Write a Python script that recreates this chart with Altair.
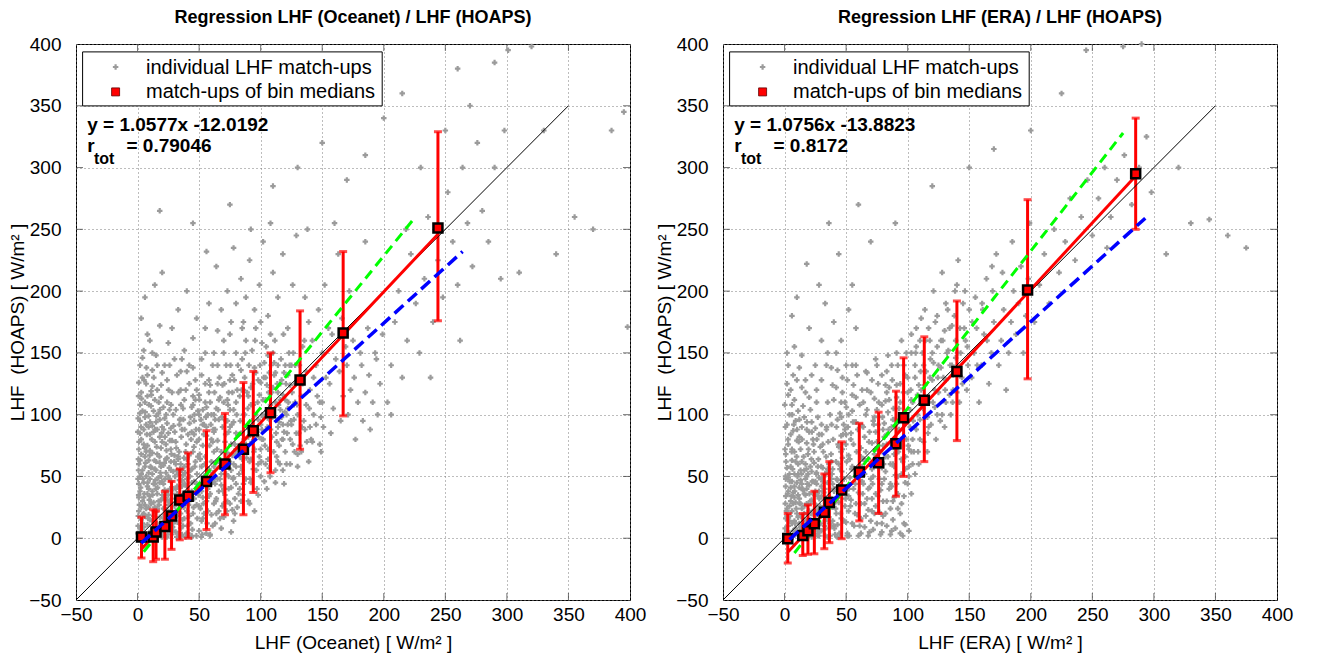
import altair as alt
import pandas as pd

# ---------------- data ----------------
ticks = [-50, 0, 50, 100, 150, 200, 250, 300, 350, 400]

# individual match-ups, Oceanet (x) vs HOAPS (y)
oce_pts = [
(1,2),(2,8),(3,15),(1,22),(4,30),(2,38),(5,45),(3,52),(1,60),(6,66),(7,3),(8,11),(9,19),(6,27),(10,34),(8,42),(7,50),(11,57),(9,63),(12,69),
(13,1),(14,7),(12,14),(15,21),(13,29),(16,36),(14,44),(17,49),(15,55),(18,61),(16,68),(19,4),(20,10),(18,17),(21,24),(19,31),(22,39),(20,46),(23,53),(21,59),
(24,65),(22,2),(25,9),(26,16),(24,23),(27,28),(25,35),(28,41),(26,48),(29,54),(27,62),(30,67),(31,5),(29,12),(32,18),(30,26),(33,33),(31,40),(34,47),(32,55),
(35,60),(33,66),(36,3),(37,10),(35,20),(38,27),(36,34),(39,43),(37,51),(38,58),(40,64),(39,1),(2,4),(4,12),(6,18),(3,25),(5,33),(8,36),(10,48),(4,55),
(2,63),(7,70),(11,6),(9,25),(13,18),(15,40),(12,52),(17,30),(19,58),(16,12),(21,44),(23,20),(25,50),(22,33),(26,6),(28,22),(24,38),(27,46),(30,14),(32,36),
(34,24),(33,52),(36,42),(38,16),(37,30),(40,48),(1,44),(3,5),(5,9),(7,24),(9,40),(11,28),(14,56),(18,45),(20,2),(23,64),(26,30),(29,40),(31,60),(35,8),
(38,44),(40,22),(2,50),(6,58),(10,15),(14,25),(17,8),(20,35),(24,14),(27,55),(31,22),(34,12),(1,33),(3,68),(8,2),(12,38),(15,62),(19,50),(22,8),(28,32),
(33,4),(39,35),(5,20),(9,53),(13,44),(16,24),(21,16),(25,27),(29,6),(36,55),
(1,72),(3,80),(5,88),(2,95),(4,103),(6,110),(3,118),(1,126),(8,75),(10,84),(7,92),(9,99),(11,107),(8,115),(12,123),(14,78),(13,86),(15,94),(17,101),(14,112),
(16,120),(19,73),(18,82),(20,90),(22,97),(21,106),(19,114),(23,76),(25,85),(24,93),(26,104),(28,79),(27,89),(29,100),(2,85),(6,98),(10,71),(12,91),(4,130),(16,88),
(20,78),(24,110),(7,125),(11,119),(27,72),(2,108),(5,76),(9,90),(13,103),(18,96),
(41,4),(43,12),(45,20),(42,30),(44,38),(46,46),(43,55),(47,62),(45,70),(48,78),(44,86),(46,95),(49,103),(47,112),(50,6),(52,14),(51,24),(53,33),(50,41),(54,50),
(52,58),(55,66),(53,75),(56,83),(54,92),(57,100),(55,110),(58,118),(59,3),(61,10),(60,19),(62,28),(59,36),(63,44),(61,53),(64,61),(62,70),(65,79),(63,88),(66,96),
(64,105),(67,114),(68,8),(70,17),(69,26),(71,35),(68,43),(72,52),(70,60),(73,69),(71,78),(74,86),(72,95),(75,104),(73,112),(76,5),(78,14),(77,23),(79,32),(76,41),
(78,49),(80,58),(77,67),(79,76),(80,85),(78,94),(42,18),(48,27),(51,64),(57,40),(60,80),(66,22),(69,90),(74,40),(41,60),(45,108),(53,16),(58,56),(62,100),(67,48),
(71,70),(75,28),(80,110),(44,2),(50,88),(56,30),(63,12),(69,58),(73,95),(77,118),
(81,25),(83,40),(85,55),(82,70),(84,85),(86,100),(83,115),(87,130),(85,145),(88,160),(90,30),(92,45),(91,62),(93,78),(90,92),(94,108),(92,122),(95,138),(93,152),(96,170),
(98,35),(100,50),(99,66),(101,80),(98,96),(102,112),(100,126),(103,142),(101,158),(105,40),(107,57),(106,72),(108,88),(105,103),(109,118),(107,134),(110,150),(112,45),(114,62),(113,78),
(115,94),(112,110),(116,125),(114,140),(118,55),(120,70),(119,86),(121,100),(118,116),(122,132),(124,60),(126,76),(125,92),(127,108),(124,124),(128,140),(130,68),(129,85),(130,100),(84,30),
(89,118),(97,86),(104,60),(111,132),(117,98),(123,150),(86,175),(95,22),(108,165),(119,44),
(2,140),(5,152),(8,165),(3,178),(12,136),(15,148),(10,160),(18,172),(22,140),(25,158),(30,145),(28,170),(35,135),(38,152),(33,185),(42,140),(45,162),(48,178),(52,145),(55,170),
(58,190),(6,195),(14,205),(40,200),(20,215),
(62,150),(65,168),(68,185),(70,160),(73,200),(76,175),(80,190),(84,210),(88,195),(91,225),(95,185),(99,205),(102,240),(106,180),(110,215),(114,195),(118,230),(122,170),(126,205),(129,245),
(64,220),(78,235),(92,250),(108,255),(56,232),
(132,75),(135,95),(133,115),(137,135),(134,155),(139,175),(136,195),(141,80),(143,100),(140,120),(145,140),(142,160),(147,185),(149,70),(151,90),(148,110),(153,130),(150,150),(155,170),(152,205),
(157,85),(159,105),(156,125),(161,145),(158,165),(163,230),(165,95),(167,115),(164,135),(169,155),(166,178),(171,100),(173,120),(170,140),(175,160),(172,200),(177,80),(179,110),(176,130),(181,150),
(183,95),(185,118),(182,140),(187,170),(189,88),(191,110),(188,132),(193,150),(195,100),(197,125),(194,145),(199,165),(138,250),(160,255),(185,240),
(203,110),(206,140),(209,175),(212,200),(215,130),(219,160),(222,230),(226,190),(229,150),(233,210),(236,260),(240,175),(244,225),(248,195),(252,280),(256,240),(260,205),(264,300),(268,255),(272,220),
(276,320),(280,265),(285,240),(290,300),(295,210),(206,100),(218,250),(238,130),(262,160),(298,330),
(18,265),(45,255),(75,270),(110,285),(130,300),(150,320),(170,290),(185,310),(200,340),(215,360),(230,300),(250,330),(270,350),(290,385),(301,395),(320,398),(340,230),(355,260),(370,250),(398,171),
(385,330),(395,345),(310,215),(330,330),(260,380),
(0.5,10),(1.5,27),(2.5,41),(0.8,55),(1.2,78),(2.8,90),(3.5,7),(4.5,19),(5.5,36),(4.2,48),(6.5,61),(5.8,73),(7.5,84),(6.2,102),(8.5,16),(9.5,31),(8.2,45),(10.5,58),(9.8,67),(11.5,80),
(10.2,94),(12.5,4),(13.5,22),(12.2,35),(14.5,47),(13.8,63),(15.5,74),(14.2,88),(16.5,10),(17.5,27),(16.2,41),(18.5,53),(17.8,66),(19.5,85),(18.2,104),(20.5,6),(21.5,19),(20.2,32),(22.5,48),(21.8,61),
(23.5,71),(22.2,82),(24.5,3),(25.5,14),(24.2,31),(26.5,40),(25.8,57),(27.5,68),(26.2,79),(28.5,9),(29.5,20),(28.2,36),(30.5,50),(29.8,62),(31.5,73),(30.2,86),(32.5,13),(33.5,27),(32.2,42),(34.5,56),
(33.8,70),(35.5,82),(34.2,96),(36.5,15),(37.5,25),(36.2,47),(38.5,53),(37.8,65),(39.5,76),(38.2,88),(40.5,10),(41.5,27),(40.2,42),(42.5,50),(41.8,67),(43.5,80),(42.2,93),(44.5,7),(45.5,25),(44.2,45),
(46.5,58),(45.8,74),(47.5,88),(46.2,100),(48.5,16),(49.5,35),(48.2,52),(50.5,68),(49.8,80),(51.5,96),(50.2,112),(52.5,3),(53.5,28),(52.2,44),(54.5,60),(53.8,84),(55.5,98),(56.5,12),(57.5,48),(58.5,75),
(59.5,92),(57.2,22),(1.8,101),(3.2,113),(5.2,128),(7.2,138),(9.2,108),(11.2,116),(13.2,130),(15.2,99),(17.2,110),(19.2,124),(21.2,88),(23.2,100),(25.2,120),(27.2,108),(29.2,91),(31.2,104),(33.2,118),(35.2,108),
(37.2,96),(39.2,120),(0.3,4),(0.6,18),(0.9,35),(0.4,48),(0.7,64),(0.2,86),(0.5,97),(0.8,115),(2.2,2),(4.8,2),(7.8,1),(10.8,3),(16.8,2),(19.8,1),(23.8,1),(27.8,3),(31.8,1),(35.8,2),
(39.8,4),(43.8,1),(47.8,2),(51.8,1),(55.8,4),(58.8,2),
(60.5,45),(61.5,88),(62.5,118),(63.5,30),(64.5,72),(65.5,104),(66.5,130),(67.5,58),(68.5,98),(69.5,38),(70.5,125),(71.5,84),(72.5,22),(73.5,108),(74.5,62),(75.5,140),(76.5,92),(77.5,48),(78.5,128),(79.5,68),
(80.5,100),(81.5,140),(82.5,52),(83.5,95),(84.5,120),(85.5,35),(86.5,80),(87.5,150),(88.5,65),(89.5,105),(90.5,140),(91.5,48),(92.5,90),(93.5,125),(94.5,70),(95.5,160),(96.5,55),(97.5,110),(98.5,82),(99.5,140),
(100.5,62),(101.5,100),(102.5,130),(103.5,75),(104.5,155),(105.5,90),(106.5,118),(107.5,50),(108.5,140),(109.5,98),(110.5,70),(111.5,160),(112.5,85),(113.5,125),(114.5,108),(115.5,60),(116.5,145),(117.5,80),(118.5,165),(119.5,102),
(120.5,125),(121.5,85),(122.5,110),(123.5,140),(124.5,95),(125.5,118),(126.5,150),(127.5,70),(128.5,125),(129.5,108),(131.5,140),(133.5,90),(135.5,160),(137.5,78),(139.5,105),(65,140),(70,150),(75,165),(85,170),(100,175),
(31,78),(34,92),(37,105),(42,125),(45,138),(48,120),(52,132),(55,150),(58,128),(61,140),(33,64),(36,88),(39,70),(43,98),(46,84),(49,66),(53,104),(56,90),(59,110),(62,58),
(65,48),(68,70),(71,96),(74,118),(77,132),(80,44),(83,66),(86,120),(89,90),(92,108),(95,72),(98,128),(101,88),(104,112),(107,96),(110,122),(113,66),(116,104),(119,134),(122,92),
(125,140),(128,110),(131,85),(134,125),(137,108),(140,90),(143,130),(146,115),(149,98),(64,32),(67,16),(70,40),(73,30),(76,55),(79,20),(82,36),(85,64),(88,48),(91,28),(94,56),
(97,40),(100,72),(103,46),(106,64),(109,82),(112,55),(115,75),(118,92),(121,60),(124,80),(127,96),(130,58),(133,70),(136,88),(139,62),(142,78),(145,92),(148,76),(150,110),(61,78),
(63,96),(66,112),(69,124),(72,140),(75,90),(78,104),(81,120),(84,136),(87,100),(90,115),(93,95),(96,134),(99,116),(102,98),(105,124),(108,108),(111,142),(114,118),(117,128),(120,112),
(35,96),(38,112),(41,84),(44,106),(47,128),(50,116),(53,92),(56,106),(59,124),(62,86),(44,56),(46,32),(48,44),(50,26),(52,38),(54,20),(56,52),(58,34),(60,62),(62,46),
(64,20),(66,38),(68,52),(70,28),(72,64),(74,50),(76,76),(78,60),(80,72),(82,84),(84,58),(86,44),(88,76),(90,82),(92,64),(94,88),(96,100),(98,60),(100,92),(102,80),
(104,130),(106,148),(108,122),(110,100),(112,134),(114,90),(116,112),(118,80),(120,140),(122,105),(35,120),(40,135),(45,115),(50,100),(55,125),(60,100),(65,125),(70,110),(75,128),(80,150),
(26,140),(24,128),(20,134),(16,140),(12,150),(8,132),(4,146),(28,118),(32,132),(36,145),
]

# individual match-ups, ERA (x) vs HOAPS (y)
era_pts = [
(1,3),(3,10),(2,18),(4,26),(1,34),(5,41),(3,49),(2,57),(6,63),(7,6),(8,14),(6,22),(9,29),(7,37),(10,45),(8,52),(11,60),(12,2),(13,9),(11,17),
(14,24),(12,32),(15,39),(13,47),(16,55),(14,62),(17,5),(18,12),(16,20),(19,27),(17,35),(20,43),(18,50),(21,58),(22,1),(23,8),(21,15),(24,23),(22,31),(25,38),
(23,46),(26,53),(24,61),(27,4),(28,11),(26,19),(29,26),(27,34),(30,42),(28,49),(31,57),(32,7),(33,14),(31,22),(34,29),(32,37),(35,45),(33,52),(36,60),(37,2),
(38,10),(36,17),(39,25),(37,33),(40,40),(38,48),(39,56),(2,6),(4,14),(5,30),(3,38),(6,46),(9,8),(10,20),(8,33),(12,41),(11,52),(14,4),(15,16),(13,28),
(16,36),(17,48),(19,10),(20,22),(18,40),(21,30),(22,54),(24,6),(25,18),(23,36),(26,44),(27,58),(29,12),(30,20),(28,38),(31,46),(33,2),(34,24),(32,50),(35,30),
(36,8),(37,40),(39,14),(40,28),(38,62),(1,48),(5,58),(9,62),(13,55),(2,24),(7,28),(11,35),(15,8),(20,2),(25,46),(30,6),(34,16),(39,44),(3,2),(6,12),
(10,4),(14,44),(18,28),(22,20),(26,26),(30,34),(35,56),(4,52),(8,42),(12,12),(16,6),(19,52),(23,14),(27,22),(31,38),(36,24),(40,10),(1,16),(17,60),(28,2),
(1,68),(3,76),(5,84),(2,92),(4,100),(6,108),(3,116),(2,125),(8,70),(10,79),(7,87),(9,95),(11,103),(8,112),(13,72),(12,82),(14,90),(16,98),(15,107),(17,118),
(19,68),(18,77),(20,86),(22,94),(21,104),(24,70),(23,80),(25,89),(27,98),(26,110),(29,74),(28,84),(30,92),(5,120),(10,128),(14,122),(20,114),(6,72),(12,96),(18,88),
(41,3),(43,11),(42,20),(44,29),(46,38),(43,47),(45,56),(47,65),(44,74),(46,83),(48,92),(45,101),(49,110),(51,4),(50,13),(52,22),(54,31),(51,40),(53,49),(55,58),
(52,67),(56,76),(54,85),(57,94),(55,103),(58,114),(56,124),(60,2),(61,10),(59,19),(62,28),(60,37),(63,46),(61,55),(64,64),(62,73),(65,82),(63,91),(66,100),(64,110),
(67,120),(69,5),(70,14),(68,23),(71,32),(69,41),(72,50),(70,59),(73,68),(71,77),(74,86),(72,95),(75,104),(73,113),(76,125),(78,3),(79,12),(77,21),(80,30),(78,39),
(81,48),(79,57),(82,66),(80,75),(83,84),(81,93),(84,102),(82,111),(85,122),(83,135),(87,6),(88,15),(86,24),(89,33),(87,42),(90,51),(88,60),(91,69),(89,78),(92,87),
(90,96),(93,105),(91,114),(94,125),(92,140),(96,2),(97,12),(95,28),(98,45),(96,62),(99,80),(97,98),(100,118),(98,132),(58,140),(66,135),(74,145),(47,130),(84,148),(42,122),
(101,50),(103,70),(102,90),(104,110),(106,130),(103,150),(107,170),(109,60),(110,80),(108,100),(111,120),(113,140),(110,160),(114,185),(116,70),(117,90),(115,110),(118,130),(120,150),(117,170),
(121,200),(123,80),(124,100),(122,120),(125,140),(127,160),(124,180),(128,215),(130,90),(131,110),(129,130),(132,150),(134,170),(131,190),(135,100),(137,120),(136,140),(139,160),(138,180),(140,205),
(142,110),(144,130),(143,150),(146,170),(145,190),(148,120),(149,140),(147,160),(150,185),(141,225),
(152,130),(154,150),(156,170),(155,195),(158,110),(160,140),(162,165),(161,185),(164,210),(166,125),(168,150),(170,175),(169,200),(172,230),(174,140),(176,160),(178,185),(177,215),(180,120),(182,150),
(184,175),(186,200),(185,240),(188,165),(190,190),(192,220),(194,150),(196,180),(198,210),(199,255),
(203,175),(207,205),(211,230),(215,190),(219,250),(223,215),(228,240),(232,275),(236,225),(241,260),(246,290),(250,245),(255,275),(260,300),(265,260),(270,290),(276,310),(282,270),(288,300),(294,325),
(298,280),(262,235),
(3,140),(8,155),(14,148),(20,170),(25,140),(30,160),(35,150),(40,175),(46,160),(52,185),(58,170),(10,195),(28,205),(44,230),(36,255),(18,222),(50,140),(55,205),(6,180),(33,190),
(60,270),(90,255),(120,285),(150,300),(170,315),(200,330),(225,360),(245,395),(275,398),(290,400),(310,230),(330,255),(345,258),(360,245),(375,235),(320,300),(70,240),
(0.5,8),(1.5,22),(2.5,36),(0.8,50),(1.2,62),(2.8,80),(3.5,4),(4.5,18),(5.5,34),(4.2,46),(6.5,56),(5.8,70),(7.5,92),(6.2,100),(8.5,12),(9.5,24),(8.2,38),(10.5,50),(9.8,66),(11.5,78),
(10.2,88),(12.5,6),(13.5,18),(12.2,28),(14.5,40),(13.8,52),(15.5,66),(14.2,80),(16.5,2),(17.5,14),(16.2,26),(18.5,44),(17.8,56),(19.5,72),(18.2,94),(20.5,8),(21.5,20),(20.2,36),(22.5,46),(21.8,64),
(23.5,76),(22.2,86),(24.5,2),(25.5,12),(24.2,28),(26.5,36),(25.8,52),(27.5,64),(26.2,80),(28.5,6),(29.5,18),(28.2,32),(30.5,48),(29.8,58),(31.5,70),(30.2,84),(32.5,10),(33.5,22),(32.2,40),(34.5,54),
(33.8,66),(35.5,78),(34.2,90),(36.5,12),(37.5,26),(36.2,44),(38.5,52),(37.8,68),(39.5,80),(38.2,92),(40.5,8),(41.5,24),(40.2,38),(42.5,48),(41.8,62),(43.5,76),(42.2,90),(44.5,4),(45.5,20),(44.2,42),
(46.5,54),(45.8,70),(47.5,84),(46.2,98),(48.5,14),(49.5,32),(48.2,48),(50.5,62),(49.8,76),(51.5,90),(50.2,106),(52.5,2),(53.5,26),(52.2,40),(54.5,56),(53.8,80),(55.5,94),(56.5,10),(57.5,44),(58.5,70),
(59.5,88),(57.2,20),(62,4),(65,9),(68,2),(72,7),(75,12),(79,5),(83,10),(86,3),(90,8),(94,4),(98,11),(101,6),(66,18),(74,26),(82,20),(92,24),(60.5,50),(64.5,64),(68.5,78),(72.5,92),
(76.5,110),(80.5,60),(84.5,88),(88.5,105),(92.5,70),(96.5,118),(63.5,36),(71.5,44),(79.5,98),(87.5,128),(0.3,4),(0.6,28),(0.9,42),(0.4,72),(0.7,90),(0.2,108),(2.2,1),(6.8,1),(11.8,2),(18.8,1),
(26.8,2),(34.8,1),(42.8,1),(50.8,2),
(100.5,75),(102.5,120),(104.5,95),(106.5,150),(108.5,70),(110.5,135),(112.5,105),(114.5,160),(116.5,85),(118.5,145),(120.5,110),(122.5,175),(124.5,130),(126.5,95),(128.5,160),(130.5,120),(132.5,185),(134.5,140),(136.5,110),(138.5,200),
(140.5,150),(142.5,170),(144.5,125),(146.5,200),(148.5,155),(152.5,175),(156.5,140),(160.5,190),(164.5,160),(168.5,220),
(31,76),(34,88),(37,100),(40,112),(43,96),(46,110),(49,88),(52,100),(55,116),(58,94),(61,108),(64,90),(67,104),(70,118),(73,98),(76,92),(79,108),(82,124),(85,112),(88,96),
(91,124),(94,110),(97,140),(100,130),(103,112),(106,140),(109,124),(112,150),(115,135),(118,160),(121,142),(124,155),(127,138),(130,168),(133,152),(136,172),(139,146),(62,16),(65,28),(68,40),
(71,22),(74,36),(77,48),(80,18),(83,30),(86,44),(89,58),(92,36),(95,52),(98,66),(101,58),(104,80),(107,88),(110,96),(113,78),(116,98),(119,92),(122,106),(125,118),(128,100),
(131,128),(134,116),(137,132),(140,118),(63,58),(66,70),(69,86),(72,60),(75,78),(78,70),(81,82),(84,66),(87,90),(90,72),(93,88),(96,80),(99,94),(102,104),(105,70),(108,116),
(111,108),(114,124),(117,110),(120,128),(44,60),(47,72),(50,84),(53,64),(56,40),(59,54),(62,66),(65,52),(68,64),(71,56),(74,72),(77,62),(80,88),(83,76),(86,60),(89,68),
(92,50),(95,64),(98,56),(101,72),(104,60),(46,16),(49,26),(52,34),(55,12),(58,28),(61,36),(64,44),(67,32),(70,48),(73,20),(76,34),(79,44),(82,54),(85,40),(88,30),
(91,44),(94,20),(97,34),(100,44),(103,36),(106,52),(35,110),(39,124),(43,136),(47,118),(51,128),(55,140),(59,132),(63,120),(67,134),(71,128),(75,140),(79,132),(83,118),(87,140),
(91,150),(95,160),(99,150),(103,165),(107,155),(111,178),(26,120),(22,132),(17,128),(12,138),(7,132),(2,150),(30,128),(34,140),(38,138),(42,150),
]

oce_x = [p[0] for p in oce_pts]
oce_y = [p[1] for p in oce_pts]
era_x = [p[0] for p in era_pts]
era_y = [p[1] for p in era_pts]

# bin medians with spread (x, median, low, high)
oce_bin_x   = [3.2, 12.7, 15.0, 22.2, 27.6, 34.3, 41.1, 56.0, 71.0, 86.0, 94.0, 108.0, 132.0, 167.0, 244.0]
oce_bin_med = [1.0, 1.0, 5.0, 9.5, 18.0, 31.0, 34.0, 46.0, 60.0, 72.0, 87.0, 101.5, 128.0, 166.0, 251.0]
oce_bin_lo  = [-16, -19, -17, -17, -9, -1.3, 0, 7, 19, 19, 37, 53, 72, 99, 176]
oce_bin_hi  = [17, 23, 22, 38, 46, 56, 69, 87, 101, 126, 135, 150, 184, 232, 329]

era_bin_x   = [2.6, 14.8, 19.0, 24.2, 32.3, 36.4, 46.4, 60.7, 76.4, 90.5, 96.7, 113.5, 140.0, 197.4, 285.2]
era_bin_med = [-0.4, 2.3, 6.0, 11.7, 21.0, 29.0, 39.0, 53.5, 61.0, 76.5, 97.6, 111.6, 135.0, 201.0, 295.0]
era_bin_lo  = [-20, -14, -13, -12.6, -8.5, -3.6, -0.4, 14, 20, 34, 50, 62, 79, 129, 250]
era_bin_hi  = [20, 20, 27, 38, 52, 62, 78, 93, 102, 119, 146, 163, 192, 274, 340]

# line end points (x list, y list)
one_to_one = ([-50, 350], [-50, 350])
oce_red   = ([3, 244], [-9, 246])
oce_green = ([5, 224], [-11, 258])
oce_blue  = ([3, 264], [-4, 232])
era_red   = ([3, 285], [-11, 293])
era_green = ([8, 275], [-12, 328])
era_blue  = ([4, 293], [-1, 259])

titles = ["Regression LHF (Oceanet) / LHF (HOAPS)", "Regression LHF (ERA) / LHF (HOAPS)"]
x_titles = ["LHF (Oceanet) [ W/m\u00b2 ]", "LHF (ERA) [ W/m\u00b2 ]"]
y_title = "LHF\u00a0 (HOAPS) [ W/m\u00b2 ]"
equations = ["y = 1.0577x -12.0192", "y = 1.0756x -13.8823"]
r_values = ["= 0.79046", "= 0.8172"]
legend_labels = ["individual LHF match-ups", "match-ups of bin medians"]

# ---------------- styling ----------------
FONT = "Liberation Sans"
W, H = 554, 556
FS = 19
PT = 30

scale = alt.Scale(domain=[-50, 400], nice=False, zero=False)


def enc_x(title, field="x:Q"):
    return alt.X(field, scale=scale, title=title,
                 axis=alt.Axis(values=ticks, labelPadding=5, titlePadding=9, labelFlush=False))


def enc_y(field="y:Q"):
    return alt.Y(field, scale=scale, title=y_title,
                 axis=alt.Axis(values=ticks, labelPadding=15, titlePadding=1, labelFlush=False))


def panel(i, px, py, bx, bmed, blo, bhi, red, green, blue):
    xt = x_titles[i]
    one = pd.DataFrame({"a": [0]})
    tdf = pd.DataFrame({"x": ticks[1:-1], "y": ticks[1:-1]})

    # inner tick marks on all four sides of the box
    tick_style = dict(color="#333333", thickness=1, size=7)
    t_bot = alt.Chart(tdf).mark_tick(orient="vertical", **tick_style).encode(
        x=enc_x(xt), y=alt.value(H - 3.5))
    t_top = alt.Chart(tdf).mark_tick(orient="vertical", **tick_style).encode(
        x=enc_x(xt), y=alt.value(3.5))
    t_lft = alt.Chart(tdf).mark_tick(orient="horizontal", **tick_style).encode(
        y=enc_y(), x=alt.value(3.5))
    t_rgt = alt.Chart(tdf).mark_tick(orient="horizontal", **tick_style).encode(
        y=enc_y(), x=alt.value(W - 3.5))

    scatter = alt.Chart(pd.DataFrame({"x": px, "y": py})).mark_point(
        shape="cross", filled=True, size=PT, color="#9b9b9b", opacity=1
    ).encode(x=enc_x(xt), y=enc_y())

    def line(xy, color, width, dash=None):
        kw = dict(color=color, strokeWidth=width)
        if dash:
            kw["strokeDash"] = dash
        return alt.Chart(pd.DataFrame({"x": xy[0], "y": xy[1]})).mark_line(**kw).encode(
            x=enc_x(xt), y=enc_y())

    bins = pd.DataFrame({"x": bx, "y": bmed, "lo": blo, "hi": bhi})
    bars = alt.Chart(bins).mark_rule(color="#ff0000", strokeWidth=3).encode(
        x=enc_x(xt), y=enc_y("lo:Q"), y2="hi:Q")
    cap_lo = alt.Chart(bins).mark_tick(color="#ff0000", orient="horizontal", size=8, thickness=3).encode(
        x=enc_x(xt), y=enc_y("lo:Q"))
    cap_hi = alt.Chart(bins).mark_tick(color="#ff0000", orient="horizontal", size=8, thickness=3).encode(
        x=enc_x(xt), y=enc_y("hi:Q"))
    squares = alt.Chart(bins).mark_square(
        size=81, color="#ff0000", stroke="black", strokeWidth=2.5, opacity=1, filled=True
    ).encode(x=enc_x(xt), y=enc_y())

    # legend (box, symbols, labels)
    leg_box = alt.Chart(one).mark_rect(fill="white", stroke="black", strokeWidth=1).encode(
        x=alt.value(6.6), x2=alt.value(306.2), y=alt.value(7.9), y2=alt.value(61.9))
    leg_pt = alt.Chart(one).mark_point(shape="cross", filled=True, size=PT, color="#9b9b9b", opacity=1).encode(
        x=alt.value(39.6), y=alt.value(23))
    leg_sq = alt.Chart(one).mark_square(size=64, color="#ff0000", stroke="#600000", strokeWidth=0.8,
                                        opacity=1, filled=True).encode(
        x=alt.value(39.6), y=alt.value(47.9))
    leg_t1 = alt.Chart(one).mark_text(text=legend_labels[0], align="left", baseline="alphabetic",
                                      font=FONT, fontSize=20, color="black").encode(
        x=alt.value(70), y=alt.value(29.5))
    leg_t2 = alt.Chart(one).mark_text(text=legend_labels[1], align="left", baseline="alphabetic",
                                      font=FONT, fontSize=20, color="black").encode(
        x=alt.value(70), y=alt.value(53.8))

    eq = alt.Chart(one).mark_text(text=equations[i], align="left", baseline="alphabetic",
                                  font=FONT, fontSize=FS, fontWeight="bold", color="black").encode(
        x=alt.value(11.2), y=alt.value(86.9))
    r_t = alt.Chart(one).mark_text(text="r", align="left", baseline="alphabetic",
                                   font=FONT, fontSize=FS, fontWeight="bold", color="black").encode(
        x=alt.value(11.2), y=alt.value(107.9))
    r_sub = alt.Chart(one).mark_text(text="tot", align="left", baseline="alphabetic",
                                     font=FONT, fontSize=16, fontWeight="bold", color="black").encode(
        x=alt.value(18), y=alt.value(120.2))
    r_val = alt.Chart(one).mark_text(text=r_values[i], align="left", baseline="alphabetic",
                                     font=FONT, fontSize=FS, fontWeight="bold", color="black").encode(
        x=alt.value(50.5), y=alt.value(107.9))

    layers = [
        t_bot, t_top, t_lft, t_rgt,
        scatter,
        bars, cap_lo, cap_hi,
        line(one_to_one, "black", 1),
        line(red, "#ff0000", 3),
        line(green, "#00ff00", 3, [10, 6]),
        squares,
        line(blue, "#0000ff", 3.5, [12, 6]),
        leg_box, leg_pt, leg_sq, leg_t1, leg_t2,
        eq, r_t, r_sub, r_val,
    ]
    return alt.layer(*layers).properties(
        width=W, height=H,
        title=alt.TitleParams(titles[i], font=FONT, fontSize=18, fontWeight="bold",
                              anchor="middle", frame="group", offset=8, color="black"),
    )


left = panel(0, oce_x, oce_y, oce_bin_x, oce_bin_med, oce_bin_lo, oce_bin_hi,
             oce_red, oce_green, oce_blue)
right = panel(1, era_x, era_y, era_bin_x, era_bin_med, era_bin_lo, era_bin_hi,
              era_red, era_green, era_blue)

chart = alt.hconcat(left, right, spacing=8).properties(
    padding={"left": 0, "top": 0, "right": 0, "bottom": 0},
    background="white",
).configure_view(
    stroke="black", strokeWidth=1
).configure_axis(
    grid=True, gridColor="#7a7a7a", gridDash=[1, 3], gridWidth=1,
    domain=False, ticks=False, tickSize=0,
    labelFont=FONT, labelFontSize=FS, labelColor="black",
    titleFont=FONT, titleFontSize=FS, titleFontWeight="normal", titleColor="black",
)

chart.save("out.html", embed_options={"renderer": "svg", "actions": False})
